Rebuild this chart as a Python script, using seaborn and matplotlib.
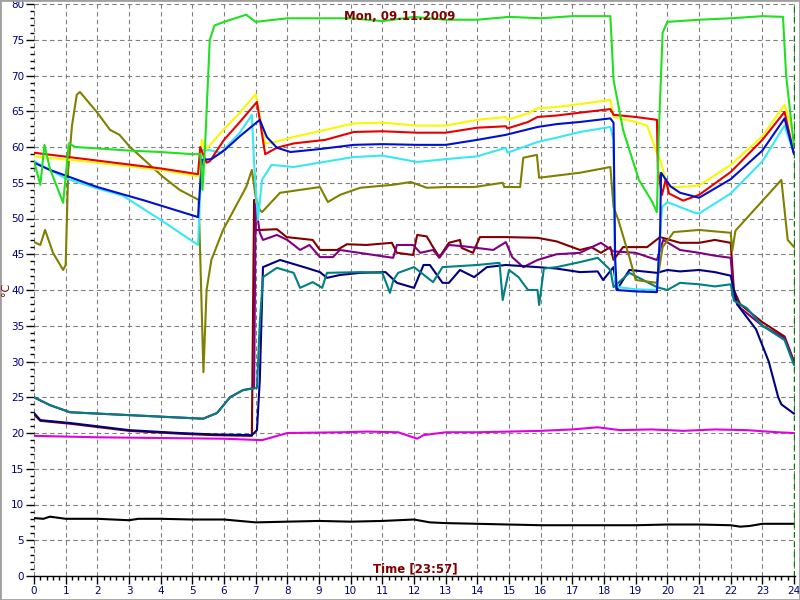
import pandas as pd
import matplotlib
matplotlib.use("Agg")
import matplotlib.pyplot as plt
import seaborn as sns
from matplotlib.patches import Rectangle
from matplotlib.ticker import MultipleLocator

# hours of day / temperature readings (°C) for each sensor
t_black = [0, 0.3, 0.5, 1, 2, 3, 3.3, 4, 5, 6, 7, 8, 9, 10, 11, 12, 12.5, 13, 14, 15, 16, 17, 18, 19, 20, 21, 22, 22.3, 22.6, 23, 24]
v_black = [8.1, 8.0, 8.3, 8.0, 8.0, 7.8, 8.0, 8.0, 7.9, 7.9, 7.5, 7.6, 7.7, 7.6, 7.7, 7.9, 7.5, 7.4, 7.3, 7.2, 7.1, 7.1, 7.1, 7.1, 7.2, 7.2, 7.1, 6.9, 7.0, 7.3, 7.3]

t_magenta = [0, 2, 4, 6, 7.2, 8, 9.7, 10.5, 11.5, 11.9, 12.1, 12.3, 13, 14, 15, 16, 17, 17.8, 18.5, 19.5, 20.5, 21.5, 22.5, 23.5, 24]
v_magenta = [19.6, 19.4, 19.3, 19.2, 19.0, 20, 20.1, 20.2, 20.1, 19.5, 19.2, 19.7, 20.1, 20.1, 20.2, 20.3, 20.5, 20.8, 20.4, 20.5, 20.3, 20.5, 20.4, 20.1, 20.0]

t_maroon = [0, 0.2, 1.14, 3, 4.6, 5.66, 6.88, 6.95, 7.0, 7.13, 7.67, 7.98, 8.8, 9.03, 9.57, 9.88, 10.5, 11.3, 11.46, 11.97, 12.1, 12.4, 12.6, 12.8, 13.1, 13.45, 13.5, 13.86, 14.08, 14.9, 15.9, 16.5, 17.24, 17.6, 17.9, 18.2, 18.3, 18.6, 19.36, 19.77, 20.4, 21, 21.5, 22, 22.1, 22.3, 23, 23.7, 24]
v_maroon = [22.6, 21.7, 21.3, 20.3, 19.9, 19.7, 19.6, 52.6, 48.4, 48.4, 48.5, 47.4, 47, 45.6, 45.6, 46.4, 46.3, 46.6, 45.2, 44.9, 47.7, 47.5, 46, 44.6, 46.6, 47, 45.9, 45.2, 47.4, 47.4, 47.3, 46.8, 45.6, 46, 45.2, 46, 44.2, 46, 46, 47.4, 46.6, 46.6, 47, 46.6, 40, 38, 35.5, 33.5, 30]

t_purple = [0, 0.5, 1.14, 3, 5.34, 5.78, 6.19, 6.6, 6.95, 7.0, 7.13, 7.23, 7.67, 8.0, 8.4, 8.7, 9.03, 9.44, 9.66, 11.34, 11.46, 11.97, 12.2, 12.6, 12.8, 13.1, 13.6, 14.5, 14.9, 15.1, 15.45, 15.9, 16.5, 17.24, 17.9, 18.3, 19, 19.67, 19.87, 20.4, 21, 21.5, 22, 22.1, 22.3, 23, 23.7, 24]
v_purple = [25, 23.9, 22.9, 22.5, 22, 22.8, 25, 26, 26.3, 52, 48, 47, 47.7, 47, 45.6, 46.3, 44.6, 44.6, 45.6, 44.5, 46.3, 46.3, 45.2, 45.6, 44.5, 46.3, 46.1, 45.6, 46.7, 44.6, 43.2, 44.2, 45, 45.2, 46.6, 45.4, 45.2, 44.2, 47, 45.6, 45.2, 44.8, 44.5, 39, 37.5, 35, 33.3, 29.8]

t_navy = [0, 0.2, 1.14, 3, 4.6, 5.66, 6.88, 7.04, 7.13, 7.23, 7.77, 8.6, 9.03, 9.25, 9.66, 10.3, 11.1, 11.46, 12, 12.3, 12.5, 12.9, 13.1, 13.45, 13.9, 14.3, 14.9, 15.9, 16.5, 17.24, 17.8, 17.97, 18.3, 18.4, 18.8, 19.67, 20, 20.4, 21, 21.5, 22, 22.2, 22.8, 23.2, 23.5, 23.6, 24]
v_navy = [22.8, 21.8, 21.4, 20.4, 20, 19.8, 19.7, 20.4, 27.4, 43.2, 44.2, 43.1, 42.5, 41.7, 42.1, 42.4, 42.5, 41, 40.3, 43.5, 43.5, 41, 41, 42.8, 41.8, 43.2, 43.5, 43.2, 43, 42.5, 42.6, 41.4, 43.2, 40, 42.8, 42.4, 42.8, 42.6, 42.8, 42.5, 42, 38, 34.5, 30, 25, 24, 22.7]

t_teal = [0, 0.5, 1.14, 3, 5.34, 5.78, 6.19, 6.6, 7.04, 7.13, 7.23, 7.67, 8.2, 8.4, 8.8, 9.1, 9.25, 10.3, 11.0, 11.24, 11.35, 11.5, 12, 12.4, 12.6, 12.9, 14, 14.7, 14.8, 15, 15.3, 15.6, 15.9, 15.95, 16.1, 16.5, 17.24, 17.8, 18.2, 18.3, 18.8, 19.67, 20, 20.4, 21, 21.5, 22, 22.1, 22.5, 23, 23.7, 24]
v_teal = [25, 23.9, 22.9, 22.5, 22, 22.8, 25, 26, 26.3, 35.4, 41.8, 43.1, 42.4, 40.3, 41.1, 40.3, 42.4, 42.5, 42.4, 39.6, 41.4, 42.4, 43.2, 41.8, 41.1, 43.2, 43.5, 43.8, 38.6, 42.8, 41.8, 40, 40, 37.9, 43, 43.2, 43.9, 44.5, 42.8, 40.4, 42.4, 40.4, 40, 41, 40.8, 40.5, 40.8, 38.5, 37.5, 35, 33, 29.5]

t_olive = [0, 0.2, 0.35, 0.6, 0.92, 1.0, 1.08, 1.2, 1.35, 1.45, 2.0, 2.4, 2.7, 3.03, 4.08, 4.6, 5.2, 5.35, 5.45, 5.6, 5.97, 6.7, 6.88, 7.0, 7.13, 7.2, 7.77, 9.03, 9.28, 9.66, 10.3, 11.3, 11.9, 12.4, 13, 13.9, 14.8, 14.85, 15.35, 15.45, 15.88, 15.95, 16.5, 17.24, 18.2, 18.3, 18.45, 18.8, 19.0, 19.67, 19.85, 20.2, 21, 22, 22.05, 22.15, 23.6, 23.8, 24]
v_olive = [46.7, 46.3, 48.4, 45.2, 42.8, 43.5, 56.8, 63, 67.3, 67.7, 64.8, 62.4, 61.7, 60, 55.8, 54, 52.6, 28.5, 40, 44.2, 48.4, 54.4, 56.8, 53, 51.2, 50.9, 53.6, 54.4, 52.3, 53.3, 54.3, 54.7, 55.1, 54.3, 54.4, 54.4, 55, 54.4, 54.4, 58.5, 58.9, 55.7, 56, 56.4, 57.2, 51.6, 49.8, 44.6, 41.4, 41, 46, 48.1, 48.4, 48, 45.5, 48.3, 55.4, 47, 46]

t_cyan = [0, 1, 2, 2.8, 4, 5.18, 5.3, 5.5, 5.9, 6.5, 6.88, 6.95, 7.07, 7.2, 7.5, 8.2, 9, 10.1, 11, 12.1, 13, 14, 14.9, 14.95, 15.9, 16.5, 17.24, 18.2, 18.3, 18.35, 18.45, 19, 19.67, 19.83, 20.0, 20.8, 21, 22, 23, 23.7, 24]
v_cyan = [58, 55.6, 54.2, 53.2, 49.8, 46.3, 59.6, 59.6, 59.2, 62, 64.5, 57.8, 49.8, 55.4, 57.5, 57.2, 57.8, 58.6, 58.8, 57.9, 58.3, 58.7, 59.9, 59.2, 60.7, 61.3, 62.1, 62.8, 61, 41.4, 40.4, 40.1, 40, 51.6, 52.3, 50.9, 50.7, 53.5, 58, 63, 59]

t_yellow = [0, 2, 4, 5.18, 5.3, 5.4, 5.5, 6, 6.5, 7.0, 7.3, 7.6, 8.2, 9, 10.1, 11, 12.1, 13, 14, 14.9, 14.95, 15.6, 15.9, 16.5, 17.24, 18.2, 18.3, 19.0, 19.36, 19.67, 19.8, 20.0, 20.3, 21, 22, 23, 23.7, 24]
v_yellow = [58.7, 57.8, 56.8, 55.9, 61, 59.6, 60, 62.5, 64.8, 67.4, 60.5, 60.7, 61.4, 62.2, 63.3, 63.4, 63, 63, 63.8, 64.2, 63.8, 64.7, 65.4, 65.6, 66, 66.6, 64.2, 63.5, 63, 59.2, 57.9, 54.4, 54.4, 54.6, 57.5, 61.5, 65.9, 61.5]

t_red = [0, 2, 4, 5.18, 5.25, 5.45, 5.55, 6, 6.5, 7.04, 7.3, 7.67, 8.2, 9.2, 10.1, 11, 12.1, 13, 14, 14.9, 14.95, 15.6, 15.9, 16.5, 17.24, 18.2, 18.3, 19, 19.67, 19.7, 19.83, 19.95, 20.05, 20.5, 21, 22, 23, 23.7, 24]
v_red = [59.2, 58.1, 57, 56.2, 60, 57.8, 58, 61, 63.5, 66.3, 59, 59.9, 60.5, 61, 62.1, 62.2, 62, 62, 62.7, 62.9, 62.6, 63.5, 64.2, 64.4, 64.8, 65.3, 64.5, 64.2, 63.8, 56.8, 53.3, 55.5, 53.5, 52.5, 53.3, 56.5, 61, 64.9, 59]

t_blue = [0, 0.5, 2, 3.5, 5.18, 5.3, 5.6, 6, 6.5, 7.13, 7.35, 7.67, 8.1, 9, 10.1, 11, 12.1, 13, 14, 14.9, 15.9, 16.5, 17.24, 18.2, 18.3, 18.35, 18.4, 19, 19.67, 19.77, 19.8, 20.1, 20.4, 21, 22, 23, 23.7, 24]
v_blue = [57.8, 56.8, 54.4, 52.5, 50.2, 58.2, 58.3, 59.5, 61.5, 63.8, 61.4, 59.9, 59.3, 59.7, 60.3, 60.4, 60.3, 60.3, 61, 61.7, 62.8, 63.2, 63.5, 64, 63.4, 44.6, 40, 39.8, 39.7, 48, 56.4, 54.5, 53.6, 52.9, 55.5, 59.5, 64, 59]

t_green = [0, 0.2, 0.33, 0.5, 0.92, 1.1, 1.3, 2, 3, 4, 5, 5.25, 5.32, 5.4, 5.55, 5.7, 6, 6.7, 7, 8, 10, 11, 12, 13, 14, 15, 16, 17, 18.2, 18.3, 18.6, 19.1, 19.5, 19.67, 19.73, 19.85, 20, 21, 22, 23, 23.65, 23.75, 24]
v_green = [58, 54.7, 60.3, 57, 52.2, 60.5, 60, 59.8, 59.5, 59.3, 59, 59, 54, 60, 75, 77, 77.5, 78.5, 77.5, 78, 78, 77.6, 78.2, 77.8, 77.8, 78.2, 78, 78.3, 78.3, 69.4, 62.4, 55.4, 52.5, 50.9, 62, 76, 77.5, 77.8, 78, 78.3, 78.2, 70, 60]

series = [
    ("black", t_black, v_black, "#000000"),
    ("magenta", t_magenta, v_magenta, "#e000e0"),
    ("maroon", t_maroon, v_maroon, "#800000"),
    ("purple", t_purple, v_purple, "#800080"),
    ("navy", t_navy, v_navy, "#000080"),
    ("teal", t_teal, v_teal, "#008080"),
    ("olive", t_olive, v_olive, "#808000"),
    ("cyan", t_cyan, v_cyan, "#38e8f0"),
    ("yellow", t_yellow, v_yellow, "#f8f800"),
    ("red", t_red, v_red, "#e80000"),
    ("blue", t_blue, v_blue, "#0010d0"),
    ("green", t_green, v_green, "#20e020"),
]

frames = []
for name, t, v, _ in series:
    frames.append(pd.DataFrame({"time": t, "temp": v, "sensor": name}))
df = pd.concat(frames, ignore_index=True)
palette = {name: c for name, _, _, c in series}
order = [s[0] for s in series]

sns.set_style("white")
plt.rcParams["font.family"] = ["DejaVu Sans"]

fig = plt.figure(figsize=(8, 6), dpi=100)
ax = fig.add_axes([34 / 800, 1 - 576 / 600, (795 - 34) / 800, (576 - 4) / 600])

sns.lineplot(data=df, x="time", y="temp", hue="sensor", hue_order=order,
             palette=palette, estimator=None, sort=False, legend=False,
             linewidth=1.5, ax=ax)

ax.set_xlim(0, 24.03)
ax.set_ylim(0, 80)
ax.xaxis.set_major_locator(MultipleLocator(1))
ax.xaxis.set_minor_locator(MultipleLocator(0.2))
ax.yaxis.set_major_locator(MultipleLocator(5))
ax.yaxis.set_minor_locator(MultipleLocator(1))
ax.tick_params(which="major", direction="out", length=5.5, width=1, color="black",
               labelcolor="#000080", labelsize=7.5, pad=1.5)
ax.tick_params(which="minor", direction="out", length=3, width=1, color="black")
ax.tick_params(axis="x", which="both", bottom=True)
ax.tick_params(axis="y", which="both", left=True)

ax.grid(True, which="major", color="#808080", linestyle=(0, (4, 3)), linewidth=0.8)
ax.axvline(24, color="#008000", linestyle=(0, (4, 3)), linewidth=1)

for side in ["top", "right", "left"]:
    ax.spines[side].set_visible(False)
ax.spines["bottom"].set_color("black")
ax.spines["bottom"].set_linewidth(1)
ax.set_xlabel("")
ax.set_ylabel("")

fig.text(0.5, 1 - 17 / 600, "Mon, 09.11.2009", color="#800000", fontweight="bold",
         fontsize=8.5, ha="center", va="center")
fig.text(415 / 800, 1 - 569 / 600, "Time [23:57]", color="#800000", fontweight="bold",
         fontsize=8.5, ha="center", va="center")
fig.text(6 / 800, 1 - 289 / 600, "°C", color="#800000", fontsize=8,
         rotation=90, ha="center", va="center")

fig.patches.append(Rectangle((0, 0), 1, 1, transform=fig.transFigure, fill=False,
                             edgecolor="#a0a0a0", linewidth=2))

fig.savefig("out.png", dpi=100)
